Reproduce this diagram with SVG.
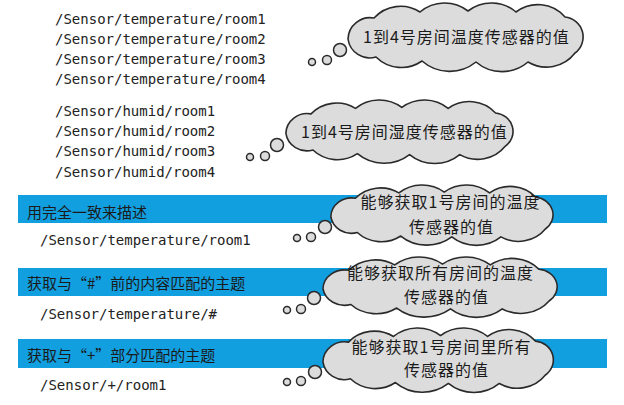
<svg xmlns="http://www.w3.org/2000/svg" width="624" height="405" viewBox="0 0 624 405">
<style>
.path{font-family:"DejaVu Sans Mono","Liberation Mono",monospace;font-size:14px;fill:#222;}
.cjk{font-family:"Noto Sans CJK SC","Noto Sans CJK JP",sans-serif;fill:#1a1a1a;}
.lbl{font-size:15px;}
.ct{font-size:16px;text-anchor:middle;letter-spacing:1px;}
.band{fill:#129fe0;}
.cloud{fill:#dcdcdc;stroke:#2a2a2a;stroke-width:1.6;stroke-linejoin:round;}
.bub{fill:#dcdcdc;stroke:#2a2a2a;stroke-width:1.5;}
</style>
<defs>
<path id="cloudShape" vector-effect="non-scaling-stroke" d="M3,36 A22,22 0 0 1 29,15 A36,36 0 0 1 75,9 A38,38 0 0 1 123,8 A38,38 0 0 1 171,9 A36,36 0 0 1 220,14 A20,20 0 0 1 230,50 A36,36 0 0 1 183,59 A40,40 0 0 1 131,59 A42,42 0 0 1 77,58 A36,36 0 0 1 31,54 A22,22 0 0 1 3,36 Z"/>
</defs>
<rect width="624" height="405" fill="#fff"/>

<g id="temp-list">
<text class="path" x="55" y="24">/Sensor/temperature/room1</text>
<text class="path" x="55" y="44">/Sensor/temperature/room2</text>
<text class="path" x="55" y="64">/Sensor/temperature/room3</text>
<text class="path" x="55" y="84">/Sensor/temperature/room4</text>
</g>
<g id="humid-list">
<text class="path" x="55" y="116">/Sensor/humid/room1</text>
<text class="path" x="55" y="136">/Sensor/humid/room2</text>
<text class="path" x="55" y="156">/Sensor/humid/room3</text>
<text class="path" x="55" y="177">/Sensor/humid/room4</text>
</g>

<g id="band1">
<rect class="band" x="18" y="195" width="589" height="28"/>
<text class="cjk lbl" x="27" y="217.5">用完全一致来描述</text>
</g>
<g id="path1"><text class="path" x="40" y="245">/Sensor/temperature/room1</text></g>

<g id="band2">
<rect class="band" x="18" y="268" width="589" height="28"/>
<text class="cjk lbl" x="27" y="288.5">获取与“#”前的内容匹配的主题</text>
</g>
<g id="path2"><text class="path" x="40" y="319">/Sensor/temperature/#</text></g>

<g id="band3">
<rect class="band" x="18" y="339" width="589" height="29"/>
<text class="cjk lbl" x="27" y="360.5">获取与“+”部分匹配的主题</text>
</g>
<g id="path3"><text class="path" x="40" y="390">/Sensor/+/room1</text></g>

<g id="connectors">
<circle class="bub" cx="312" cy="62" r="3.5"/><circle class="bub" cx="327" cy="60" r="4.5"/><circle class="bub" cx="340" cy="50" r="6.5"/>
<circle class="bub" cx="250" cy="157" r="3.5"/><circle class="bub" cx="265" cy="156" r="4.5"/><circle class="bub" cx="277" cy="145" r="6.5"/>
<circle class="bub" cx="297" cy="238" r="3.5"/><circle class="bub" cx="311" cy="237" r="4.5"/><circle class="bub" cx="325" cy="227" r="6.5"/>
<circle class="bub" cx="287" cy="310" r="3.5"/><circle class="bub" cx="301" cy="309" r="4.5"/><circle class="bub" cx="314" cy="298" r="6.5"/>
<circle class="bub" cx="287" cy="382" r="3.5"/><circle class="bub" cx="301" cy="381" r="4.5"/><circle class="bub" cx="315" cy="372" r="6.5"/>
</g>

<g id="cloud1">
<use href="#cloudShape" class="cloud" transform="translate(345,3)"/>
<text class="cjk ct" x="466.5" y="43">1到4号房间温度传感器的值</text>
</g>
<g id="cloud2">
<use href="#cloudShape" class="cloud" transform="translate(283,100) scale(0.966,0.926)"/>
<text class="cjk ct" x="404.5" y="138">1到4号房间湿度传感器的值</text>
</g>
<g id="cloud3">
<use href="#cloudShape" class="cloud" transform="translate(328,185) scale(0.945,0.88)"/>
<text class="cjk ct" x="450.5" y="208">能够获取1号房间的温度</text>
<text class="cjk ct" x="451.5" y="233">传感器的值</text>
</g>
<g id="cloud4">
<use href="#cloudShape" class="cloud" transform="translate(320,257) scale(0.996,0.88)"/>
<text class="cjk ct" x="440.5" y="279">能够获取所有房间的温度</text>
<text class="cjk ct" x="446.5" y="303">传感器的值</text>
</g>
<g id="cloud5">
<use href="#cloudShape" class="cloud" transform="translate(320,328) scale(0.98,0.94)"/>
<text class="cjk ct" x="441.5" y="353">能够获取1号房间里所有</text>
<text class="cjk ct" x="446.5" y="376">传感器的值</text>
</g>
</svg>
